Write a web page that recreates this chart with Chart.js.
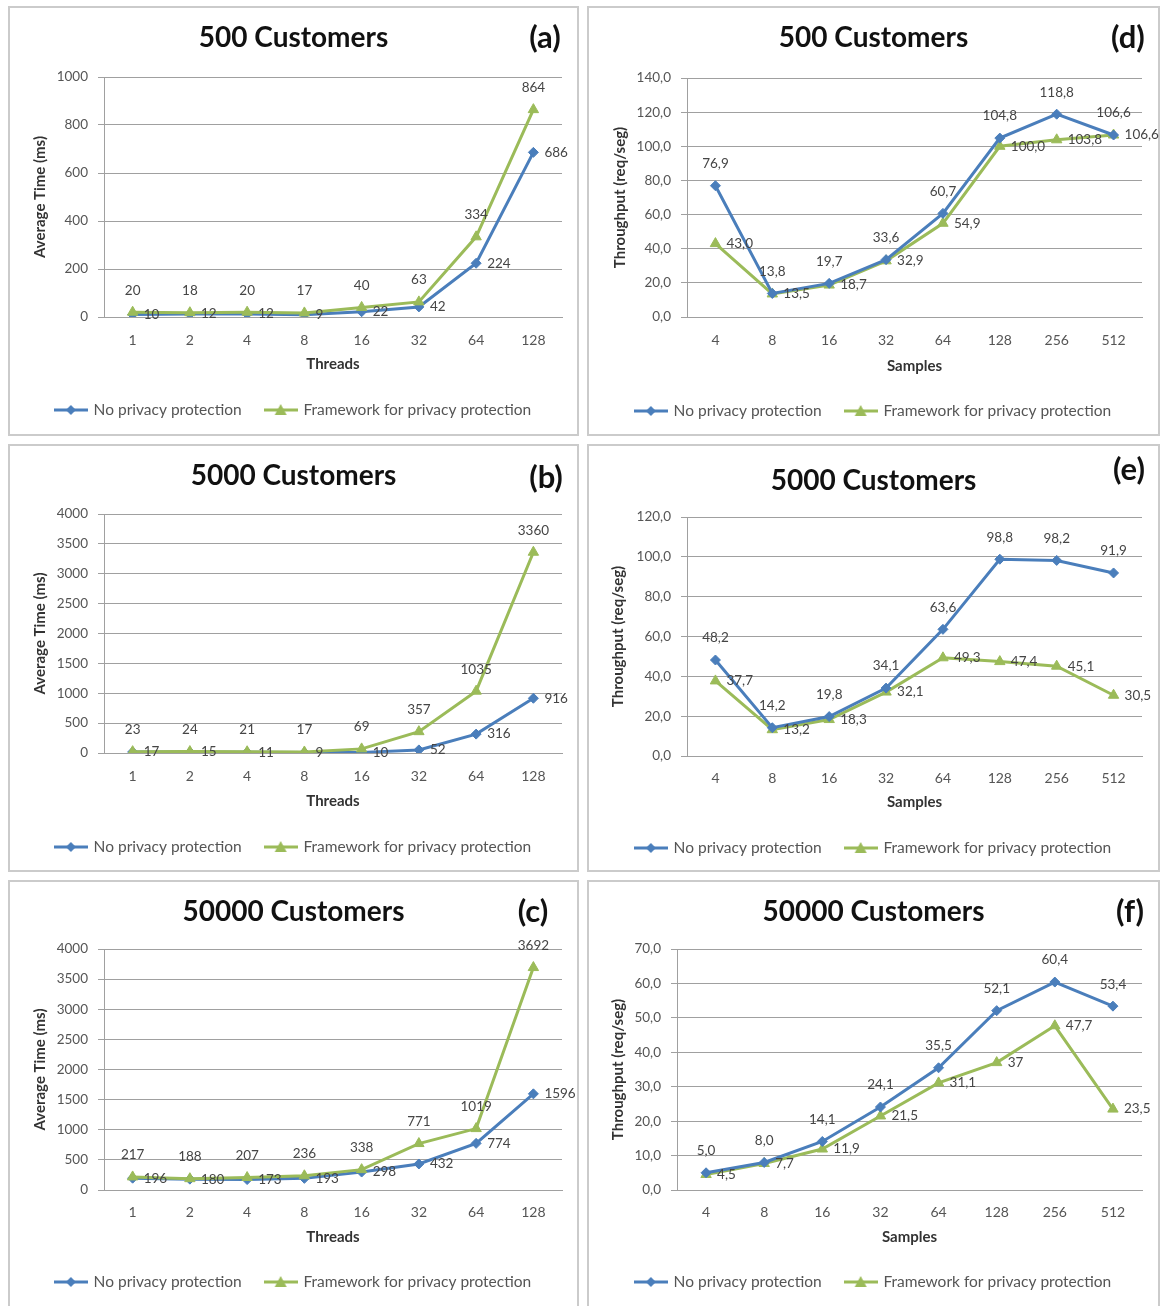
<!DOCTYPE html>
<html>
<head>
<meta charset="utf-8">
<script src="https://cdn.jsdelivr.net/npm/chart.js@4.4.1/dist/chart.umd.min.js"></script>
<style>
  html, body { margin: 0; padding: 0; background: #fff; overflow: hidden; }
  body { width: 1165px; height: 1306px; position: relative; }
  .panel { position: absolute; border: 2px solid #cbcbcb; box-sizing: border-box; background: #fff; }
  .panel canvas { position: absolute; top: 0; }
</style>
</head>
<body>
<script>
// categories
const threads = ['1', '2', '4', '8', '16', '32', '64', '128'];
const samples = ['4', '8', '16', '32', '64', '128', '256', '512'];
const seriesNames = ['No privacy protection', 'Framework for privacy protection'];
const panelTitles = ['500 Customers', '5000 Customers', '50000 Customers', '500 Customers', '5000 Customers', '50000 Customers'];
const panelLetters = ['(a)', '(b)', '(c)', '(d)', '(e)', '(f)'];

// average time (ms) per number of threads
const timeNoPrivacy500 = [10, 12, 12, 9, 22, 42, 224, 686];
const timeFramework500 = [20, 18, 20, 17, 40, 63, 334, 864];
const timeNoPrivacy5000 = [17, 15, 11, 9, 10, 52, 316, 916];
const timeFramework5000 = [23, 24, 21, 17, 69, 357, 1035, 3360];
const timeNoPrivacy50000 = [196, 180, 173, 193, 298, 432, 774, 1596];
const timeFramework50000 = [217, 188, 207, 236, 338, 771, 1019, 3692];

// throughput (req/seg) per number of samples
const tputNoPrivacy500 = [76.9, 13.8, 19.7, 33.6, 60.7, 104.8, 118.8, 106.6];
const tputFramework500 = [43.0, 13.5, 18.7, 32.9, 54.9, 100.0, 103.8, 106.6];
const tputNoPrivacy5000 = [48.2, 14.2, 19.8, 34.1, 63.6, 98.8, 98.2, 91.9];
const tputFramework5000 = [37.7, 13.2, 18.3, 32.1, 49.3, 47.4, 45.1, 30.5];
const tputNoPrivacy50000 = [5.0, 8.0, 14.1, 24.1, 35.5, 52.1, 60.4, 53.4];
const tputFramework50000 = [4.5, 7.7, 11.9, 21.5, 31.1, 37, 47.7, 23.5];
const tputFramework50000Plain = [5]; // label shown without decimals ("37")

// y axis ticks per panel (a..f)
const yMax = [1000, 4000, 4000, 140, 120, 70];
const yStep = [200, 500, 500, 20, 20, 10];

const FONT = 'Lato, "Liberation Sans", sans-serif';
const BLUE = '#4a7ebb';
const GREEN = '#9bbb59';
const GRID = '#a0a0a0';
const TEXT = '#555';
Chart.defaults.font.family = FONT;

// page geometry of each panel (a, b, c, d, e, f)
const geo = [
  { left: 8, top: 6, w: 571, h: 430, plot: [104, 562, 77, 317], titleY: 38, letter: [545, 38], tickY: 340, xTitleY: 364, legendY: 410, yTitleX: 40 },
  { left: 8, top: 444, w: 571, h: 428, plot: [104, 562, 514, 753], titleY: 476, letter: [546, 478], tickY: 776, xTitleY: 801, legendY: 847, yTitleX: 40 },
  { left: 8, top: 880, w: 571, h: 430, plot: [104, 562, 949, 1190], titleY: 912, letter: [533, 912], tickY: 1212, xTitleY: 1237, legendY: 1282, yTitleX: 40 },
  { left: 587, top: 6, w: 573, h: 430, plot: [687, 1142, 78, 317], titleY: 38, letter: [1128, 38], tickY: 340, xTitleY: 366, legendY: 411, yTitleX: 620 },
  { left: 587, top: 444, w: 573, h: 428, plot: [687, 1142, 517, 756], titleY: 481, letter: [1129, 470], tickY: 778, xTitleY: 802, legendY: 848, yTitleX: 618 },
  { left: 587, top: 880, w: 573, h: 430, plot: [677, 1142, 949, 1190], titleY: 912, letter: [1130, 912], tickY: 1212, xTitleY: 1237, legendY: 1282, yTitleX: 618 }
];
const EXTRA = 6; // canvas runs a bit past the panel border so edge labels are not cut

const series = [
  [timeNoPrivacy500, timeFramework500],
  [timeNoPrivacy5000, timeFramework5000],
  [timeNoPrivacy50000, timeFramework50000],
  [tputNoPrivacy500, tputFramework500],
  [tputNoPrivacy5000, tputFramework5000],
  [tputNoPrivacy50000, tputFramework50000]
];

function comma(v) { return v.toFixed(1).replace('.', ','); }

// small line+marker icons for the legend, like the spreadsheet legend
function legendIcon(color, shape) {
  const c = document.createElement('canvas');
  c.width = 34; c.height = 14;
  const g = c.getContext('2d');
  g.strokeStyle = color; g.fillStyle = color; g.lineWidth = 3;
  g.beginPath(); g.moveTo(0, 7); g.lineTo(34, 7); g.stroke();
  g.beginPath();
  if (shape === 'diamond') {
    g.moveTo(17, 2); g.lineTo(22, 7); g.lineTo(17, 12); g.lineTo(12, 7);
  } else {
    g.moveTo(17, 1); g.lineTo(23, 12); g.lineTo(11, 12);
  }
  g.closePath(); g.fill();
  return c;
}
const icons = [legendIcon(BLUE, 'diamond'), legendIcon(GREEN, 'triangle')];

// value labels next to the points
function makeLabelPlugin(isTime, plainIdx) {
  return {
    id: 'valueLabels',
    afterDatasetsDraw(chart) {
      const ctx = chart.ctx;
      ctx.save();
      ctx.font = '13.5px ' + FONT;
      ctx.fillStyle = '#454545';
      ctx.textBaseline = 'middle';
      chart.data.datasets.forEach((ds, i) => {
        const above = isTime ? i === 1 : i === 0;
        chart.getDatasetMeta(i).data.forEach((pt, j) => {
          const v = ds.data[j];
          let txt = isTime ? String(v) : comma(v);
          if (i === 1 && plainIdx.includes(j)) txt = String(v);
          if (above) {
            ctx.textAlign = 'center';
            ctx.fillText(txt, pt.x, pt.y - 22);
          } else {
            ctx.textAlign = 'left';
            ctx.fillText(txt, pt.x + 11, pt.y);
          }
        });
      });
      ctx.restore();
    }
  };
}

function makeLetterPlugin(text, x, y) {
  return {
    id: 'panelLetter',
    afterDraw(chart) {
      const ctx = chart.ctx;
      ctx.save();
      ctx.font = 'bold 31px ' + FONT;
      ctx.fillStyle = '#111';
      ctx.textAlign = 'center';
      ctx.textBaseline = 'middle';
      ctx.fillText(text, x, y);
      ctx.restore();
    }
  };
}

geo.forEach((L, i) => {
  const isTime = i < 3;
  const div = document.createElement('div');
  div.className = 'panel';
  div.style.left = L.left + 'px';
  div.style.top = L.top + 'px';
  div.style.width = L.w + 'px';
  div.style.height = L.h + 'px';
  const canvas = document.createElement('canvas');
  const cw = L.w - 4 + 2 * EXTRA, ch = L.h - 4;
  canvas.width = cw; canvas.height = ch;
  canvas.style.left = (-EXTRA) + 'px';
  div.appendChild(canvas);
  document.body.appendChild(div);

  const ox = L.left + 2 - EXTRA, oy = L.top + 2;
  const pl = L.plot[0] - ox, pr = L.plot[1] - ox, pt = L.plot[2] - oy, pb = L.plot[3] - oy;
  const titleY = L.titleY - oy;
  const legPad = 24, fs = 15.5;
  const legTop = L.legendY - oy - legPad - fs / 2;
  const legH = fs + legPad + 10;
  const padBottom = ch - (legTop + legH);
  const titleLH = 28 * 1.2;
  const axisLH = 15 * 1.2;

  const [blue, green] = series[i];

  new Chart(canvas, {
    type: 'line',
    data: {
      labels: isTime ? threads : samples,
      datasets: [
        { label: seriesNames[0], data: blue, borderColor: BLUE, backgroundColor: BLUE, borderWidth: 3,
          pointStyle: 'rectRot', pointRadius: 5, pointBorderWidth: 1, tension: 0, order: isTime ? 1 : 0 },
        { label: seriesNames[1], data: green, borderColor: GREEN, backgroundColor: GREEN, borderWidth: 3,
          pointStyle: 'triangle', pointRadius: 6, pointBorderWidth: 1, tension: 0, order: isTime ? 0 : 1 }
      ]
    },
    options: {
      responsive: false,
      animation: false,
      devicePixelRatio: 1,
      layout: { padding: { left: 0, right: 0, top: 0, bottom: padBottom } },
      plugins: {
        title: {
          display: true, text: panelTitles[i], color: '#111',
          font: { size: 28, weight: 'bold' },
          padding: { top: titleY - titleLH / 2, bottom: pt - titleY - titleLH / 2 }
        },
        legend: {
          position: 'bottom',
          labels: {
            usePointStyle: true, pointStyleWidth: 30, padding: legPad, color: TEXT,
            font: { size: fs },
            generateLabels: chart => chart.data.datasets.map((ds, k) => ({
              text: ds.label, pointStyle: icons[k], fillStyle: ds.borderColor,
              strokeStyle: ds.borderColor, lineWidth: 0, hidden: false, datasetIndex: k, fontColor: TEXT
            }))
          }
        },
        tooltip: { enabled: false }
      },
      scales: {
        x: {
          offset: true,
          grid: { display: false, drawTicks: false, offset: true },
          border: { display: true, color: GRID },
          ticks: { color: TEXT, font: { size: 14 }, padding: L.tickY - oy - pb - 8.4 },
          title: {
            display: true, text: isTime ? 'Threads' : 'Samples', color: '#333',
            font: { size: 15, weight: 'bold' },
            padding: { top: 0, bottom: legTop - (L.xTitleY - oy) - axisLH / 2 }
          },
          afterFit: s => { s.height = legTop - pb; }
        },
        y: {
          min: 0, max: yMax[i],
          ticks: {
            stepSize: yStep[i], color: TEXT, font: { size: 13.5 }, padding: 10,
            callback: v => isTime ? String(v) : comma(v)
          },
          grid: { color: GRID, tickLength: 6 },
          border: { display: true, color: GRID },
          title: {
            display: true, text: isTime ? 'Average Time (ms)' : 'Throughput (req/seg)', color: '#333',
            font: { size: 15, weight: 'bold' },
            padding: { top: L.yTitleX - ox - axisLH / 2, bottom: 0 }
          },
          afterFit: s => { s.width = pl; }
        },
        y2: {
          position: 'right', display: true,
          grid: { display: false, drawTicks: false },
          ticks: { display: false },
          border: { display: false },
          afterFit: s => { s.width = cw - pr; }
        }
      }
    },
    plugins: [
      makeLabelPlugin(isTime, i === 5 ? tputFramework50000Plain : []),
      makeLetterPlugin(panelLetters[i], L.letter[0] - ox, L.letter[1] - oy)
    ]
  });
});
</script>
</body>
</html>
